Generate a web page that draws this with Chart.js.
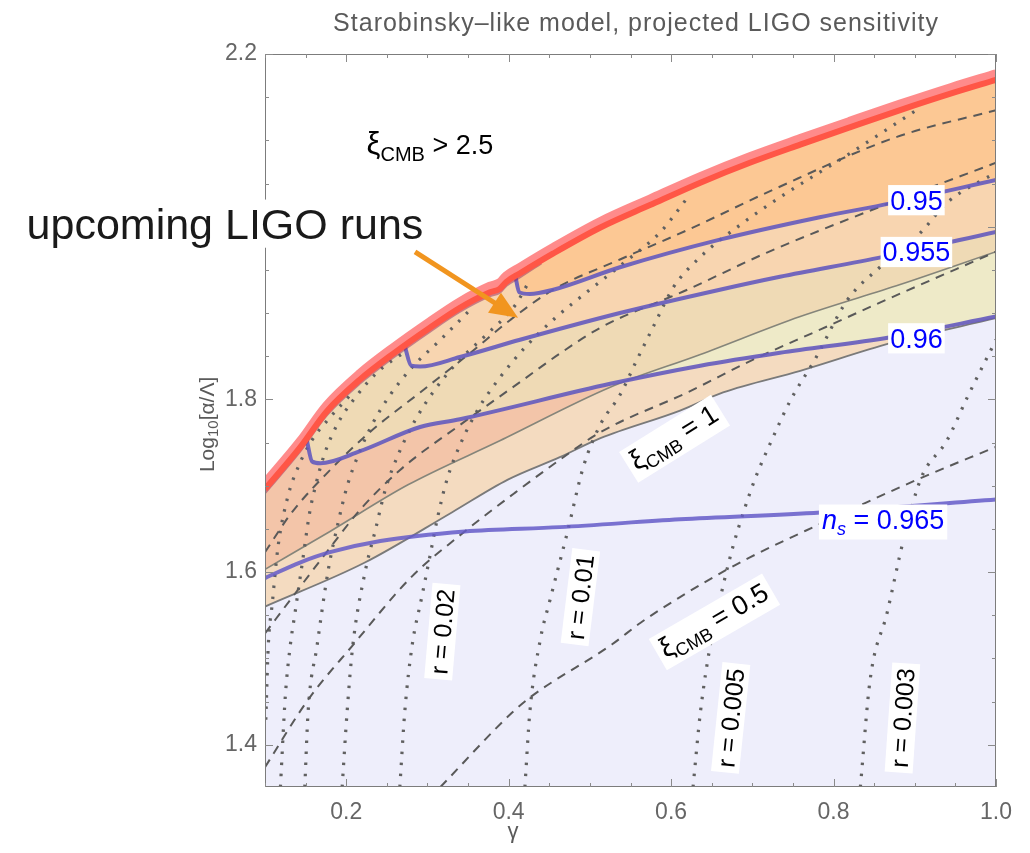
<!DOCTYPE html>
<html>
<head>
<meta charset="utf-8">
<script src="https://cdn.jsdelivr.net/npm/chart.js@4.4.1/dist/chart.umd.min.js"></script>
<style>
  body { margin: 0; background: #fff; }
  #wrap { width: 1030px; height: 853px; position: relative; }
</style>
</head>
<body>
<div id="wrap"><canvas id="myChart"></canvas></div>
<script>
// axis ticks
const xTicks = [0.2, 0.4, 0.6, 0.8, 1.0];
const yTicks = [1.4, 1.6, 1.8, 2.0, 2.2];

// LIGO reach (thick red boundary), gamma vs log10(alpha/Lambda)
const gammaLigo = [0.1, 0.143, 0.176, 0.217, 0.258, 0.303, 0.340, 0.377, 0.389, 0.397, 0.414, 0.455, 0.513, 0.574, 0.636, 0.697, 0.759, 0.820, 0.882, 0.944, 1.0];
const ligoLine = [1.696, 1.744, 1.786, 1.823, 1.853, 1.883, 1.906, 1.924, 1.928, 1.936, 1.946, 1.969, 1.999, 2.025, 2.051, 2.074, 2.095, 2.115, 2.135, 2.154, 2.170];
const ligoGlow = [1.703, 1.751, 1.793, 1.830, 1.860, 1.890, 1.913, 1.931, 1.935, 1.943, 1.953, 1.976, 2.006, 2.032, 2.058, 2.081, 2.102, 2.122, 2.142, 2.161, 2.177];
const gammaLigoEdge = [0.1, 0.143, 0.176, 0.217, 0.258, 0.303, 0.340, 0.377, 0.389, 0.397, 0.414, 0.440];
const ligoEdge = [1.692, 1.740, 1.782, 1.819, 1.849, 1.879, 1.902, 1.920, 1.924, 1.932, 1.942, 1.958];

// solid grey xi_CMB region edges
const gammaXiUpper = [0.1, 0.180, 0.276, 0.389, 0.525, 0.636, 0.759, 0.882, 1.0];
const xiUpper = [1.603, 1.647, 1.701, 1.752, 1.814, 1.852, 1.896, 1.933, 1.971];
const gammaXi1 = [0.1, 0.223, 0.330, 0.399, 0.463, 0.513, 0.611, 0.664, 0.759, 0.870, 1.0];
const xi1 = [1.560, 1.611, 1.669, 1.707, 1.733, 1.755, 1.787, 1.808, 1.833, 1.865, 1.894];

// n_s contours
const gammaNs950 = [0.408, 0.413, 0.426, 0.455, 0.537, 0.660, 0.783, 0.870, 1.0];
const ns950 = [1.944, 1.924, 1.922, 1.927, 1.953, 1.985, 2.011, 2.027, 2.054];
const gammaNs955 = [0.272, 0.280, 0.291, 0.340, 0.414, 0.537, 0.660, 0.734, 0.861, 1.0];
const ns955 = [1.862, 1.839, 1.838, 1.849, 1.869, 1.900, 1.927, 1.942, 1.965, 1.994];
const gammaNs960 = [0.151, 0.158, 0.168, 0.217, 0.291, 0.340, 0.525, 0.636, 0.734, 0.870, 1.0];
const ns960 = [1.755, 1.728, 1.726, 1.740, 1.768, 1.777, 1.818, 1.839, 1.854, 1.872, 1.896];
const gammaNs965 = [0.1, 0.143, 0.180, 0.242, 0.346, 0.463, 0.611, 0.784, 1.0];
const ns965 = [1.593, 1.611, 1.623, 1.636, 1.647, 1.652, 1.661, 1.669, 1.684];

// dashed xi_CMB contours
const gammaXiA = [0.1, 0.133, 0.180, 0.229, 0.291, 0.353, 0.402, 0.455, 0.537, 0.620, 0.726, 0.878, 1.0];
const xiA = [1.623, 1.669, 1.718, 1.762, 1.808, 1.854, 1.892, 1.927, 1.962, 1.996, 2.043, 2.104, 2.135];
const gammaXiB = [0.1, 0.141, 0.180, 0.217, 0.266, 0.344, 0.414, 0.463, 0.513, 0.620, 0.718, 0.857, 1.0];
const xiB = [1.529, 1.580, 1.628, 1.672, 1.718, 1.773, 1.820, 1.853, 1.883, 1.927, 1.970, 2.023, 2.074];
const gammaXiC = [0.1, 0.153, 0.207, 0.281, 0.338, 0.408, 0.463, 0.513, 0.620, 0.701, 0.784, 0.857, 1.0];
const xiC = [1.374, 1.452, 1.514, 1.595, 1.641, 1.692, 1.730, 1.762, 1.808, 1.846, 1.881, 1.912, 1.971];
const gammaXiHalf = [0.316, 0.404, 0.428, 0.527, 0.562, 0.611, 0.669, 0.697, 0.775, 0.903, 1.0];
const xiHalf = [1.351, 1.437, 1.456, 1.516, 1.541, 1.571, 1.603, 1.617, 1.652, 1.707, 1.745];

// dotted r contours
const gammaR003 = [0.833, 0.845, 0.866, 0.886, 0.907, 0.940, 0.965, 1.0];
const r003 = [1.351, 1.475, 1.553, 1.637, 1.707, 1.753, 1.803, 1.869];
const gammaR005 = [0.627, 0.636, 0.648, 0.663, 0.676, 0.689, 0.703, 0.724, 0.747, 0.777, 0.817, 0.857, 0.907, 0.940, 1.0];
const r005 = [1.351, 1.437, 1.514, 1.580, 1.629, 1.669, 1.707, 1.753, 1.799, 1.846, 1.915, 1.953, 1.993, 2.028, 2.063];
const gammaR01 = [0.420, 0.426, 0.439, 0.451, 0.472, 0.492, 0.513, 0.537, 0.558, 0.578, 0.603, 0.636, 0.685, 0.734, 0.817, 0.907];
const r01 = [1.351, 1.437, 1.522, 1.568, 1.645, 1.722, 1.771, 1.805, 1.846, 1.884, 1.930, 1.965, 2.002, 2.034, 2.083, 2.138];
const gammaR02 = [0.266, 0.272, 0.281, 0.293, 0.303, 0.312, 0.324, 0.340, 0.362, 0.389, 0.420, 0.457, 0.500, 0.543, 0.587, 0.623];
const r02 = [1.351, 1.437, 1.514, 1.571, 1.618, 1.661, 1.707, 1.747, 1.788, 1.825, 1.860, 1.894, 1.927, 1.959, 1.994, 2.037];
const gammaR04 = [0.195, 0.201, 0.208, 0.223, 0.236, 0.248, 0.264, 0.285, 0.309, 0.340, 0.375, 0.408, 0.426];
const r04 = [1.351, 1.437, 1.514, 1.599, 1.649, 1.695, 1.736, 1.776, 1.811, 1.846, 1.877, 1.909, 1.938];
const gammaR06 = [0.149, 0.153, 0.164, 0.178, 0.190, 0.201, 0.215, 0.232, 0.254, 0.281, 0.316, 0.353];
const r06 = [1.351, 1.437, 1.514, 1.603, 1.657, 1.699, 1.736, 1.771, 1.805, 1.837, 1.869, 1.904];
const gammaR08 = [0.119, 0.125, 0.131, 0.137, 0.146, 0.155, 0.162, 0.173, 0.189, 0.211, 0.239, 0.272];
const r08 = [1.351, 1.456, 1.514, 1.553, 1.611, 1.669, 1.699, 1.736, 1.771, 1.802, 1.832, 1.855];
const gammaR10 = [0.101, 0.104, 0.109, 0.116, 0.128, 0.141, 0.158, 0.180, 0.205];
const r10 = [1.429, 1.514, 1.564, 1.629, 1.687, 1.722, 1.753, 1.779, 1.805];

// in-plot labels: [gamma, log10, rotation]
const rLabels = ['r = 0.02', 'r = 0.01', 'r = 0.005', 'r = 0.003'];
const rLabelAt = [[0.318, 1.531, -85], [0.488, 1.571, -83], [0.673, 1.431, -84], [0.8845, 1.431, -86]];
const nsLabels = ['0.95', '0.955', '0.96'];
const nsLabelAt = [[0.902, 2.031], [0.902, 1.971], [0.902, 1.871]];

const FONT = "'Liberation Sans', Arial, sans-serif";

function pts(xs, ys) {
    return xs.map((x, i) => ({x: x, y: ys[i]}));
}

function fillArea(xs, ys, fill, color, order) {
    return {data: pts(xs, ys), borderWidth: 0, borderColor: 'rgba(0,0,0,0)', backgroundColor: color,
            fill: fill, order: order, cubicInterpolationMode: 'monotone'};
}

function curve(xs, ys, color, width, dash, order) {
    return {data: pts(xs, ys), borderColor: color, borderWidth: width, borderDash: dash || [],
            fill: false, order: order, cubicInterpolationMode: 'monotone', borderCapStyle: 'butt'};
}

const datasets = [
    fillArea(gammaXi1, xi1, 'start', '#eeeefb', 100),                 // 0 lavender
    fillArea(gammaLigo, ligoLine, 0, '#f4dbc0', 99),                  // 1 beige
    fillArea(gammaXiUpper, xiUpper, 1, '#f3c5a9', 98),                // 2 salmon
    fillArea(gammaNs960, ns960, 1, '#efdab5', 97),                    // 3 tan
    fillArea(gammaXiUpper, xiUpper, {target: 3, above: '#eeeac8', below: 'rgba(0,0,0,0)'}, '#eeeac8', 96), // 4 yellow
    fillArea(gammaNs955, ns955, 1, '#f8d5b0', 95),                    // 5 peach
    fillArea(gammaNs950, ns950, 1, '#fcc894', 94),                    // 6 orange

    curve(gammaXiUpper, xiUpper, '#85857a', 1.6, null, 40),
    curve(gammaXi1, xi1, '#7a7a7a', 1.8, null, 40),

    curve(gammaXiA, xiA, '#595959', 2, [9, 7], 30),
    curve(gammaXiB, xiB, '#595959', 2, [9, 7], 30),
    curve(gammaXiC, xiC, '#595959', 2, [9, 7], 30),
    curve(gammaXiHalf, xiHalf, '#595959', 2, [9, 7], 30),

    curve(gammaR003, r003, '#606060', 3.2, [2.5, 8.5], 30),
    curve(gammaR005, r005, '#606060', 3.2, [2.5, 8.5], 30),
    curve(gammaR01, r01, '#606060', 3.2, [2.5, 8.5], 30),
    curve(gammaR02, r02, '#606060', 3.2, [2.5, 8.5], 30),
    curve(gammaR04, r04, '#606060', 3.2, [2.5, 8.5], 30),
    curve(gammaR06, r06, '#606060', 3.2, [2.5, 8.5], 30),
    curve(gammaR08, r08, '#606060', 3.2, [2.5, 8.5], 30),
    curve(gammaR10, r10, '#606060', 3.2, [2.5, 8.5], 30),

    curve(gammaNs950, ns950, 'rgba(100,90,190,0.9)', 4, null, 20),
    curve(gammaNs955, ns955, 'rgba(100,90,190,0.9)', 4, null, 20),
    curve(gammaNs960, ns960, 'rgba(100,90,190,0.9)', 4, null, 20),
    curve(gammaNs965, ns965, 'rgba(100,90,200,0.85)', 4, null, 20),

    curve(gammaLigoEdge, ligoEdge, 'rgba(150,40,90,0.5)', 3, null, 12),
    curve(gammaLigo, ligoGlow, 'rgba(255,110,110,0.8)', 9, null, 11),
    curve(gammaLigo, ligoLine, '#ff5646', 6, null, 10)
];

function richText(ctx, parts, cx, cy, angle, box, pad) {
    ctx.save();
    ctx.translate(cx, cy);
    ctx.rotate(angle * Math.PI / 180);
    let w = 0, s = 0, sub = 0;
    parts.forEach(p => {
        ctx.font = (p.italic ? 'italic ' : '') + p.size + 'px ' + FONT;
        p.w = ctx.measureText(p.t).width;
        w += p.w;
        s = Math.max(s, p.size);
        sub = Math.max(sub, p.dy || 0);
    });
    if (box) {
        const px = pad === undefined ? 4 : pad;
        ctx.fillStyle = '#fff';
        ctx.fillRect(-w / 2 - px, -0.55 * s, w + 2 * px, 1.12 * s + sub * 0.8);
    }
    let x = -w / 2;
    ctx.textBaseline = 'alphabetic';
    parts.forEach(p => {
        ctx.font = (p.italic ? 'italic ' : '') + p.size + 'px ' + FONT;
        ctx.fillStyle = p.color || '#000';
        ctx.fillText(p.t, x, 0.36 * s + (p.dy || 0));
        x += p.w;
    });
    ctx.restore();
}

const notes = {
    id: 'notes',
    afterDraw(chart) {
        const {ctx, chartArea: a, scales: {x, y}} = chart;
        ctx.save();

        // frame with inward ticks
        ctx.strokeStyle = '#7c7c7c';
        ctx.lineWidth = 1;
        ctx.strokeRect(a.left + 0.5, a.top + 0.5, a.right - a.left - 1, a.bottom - a.top - 1);
        ctx.strokeStyle = '#8a8a8a';
        ctx.beginPath();
        for (let k = 2; k <= 20; k++) {
            const px = Math.round(x.getPixelForValue(k * 0.05)) + 0.5;
            const len = k % 4 === 0 ? 8 : 4;
            ctx.moveTo(px, a.bottom); ctx.lineTo(px, a.bottom - len);
            ctx.moveTo(px, a.top); ctx.lineTo(px, a.top + len);
        }
        for (let k = 28; k <= 44; k++) {
            const py = Math.round(y.getPixelForValue(k * 0.05)) + 0.5;
            const len = k % 4 === 0 ? 8 : 4;
            ctx.moveTo(a.left, py); ctx.lineTo(a.left + len, py);
            ctx.moveTo(a.right, py); ctx.lineTo(a.right - len, py);
        }
        ctx.stroke();

        // r labels
        rLabels.forEach((t, i) => {
            const [g, l, rot] = rLabelAt[i];
            richText(ctx, [{t: t, size: 25}], x.getPixelForValue(g), y.getPixelForValue(l), rot, true, 5);
        });
        // n_s labels
        nsLabels.forEach((t, i) => {
            const [g, l] = nsLabelAt[i];
            richText(ctx, [{t: t, size: 27, color: '#0000ff'}], x.getPixelForValue(g), y.getPixelForValue(l), 0, true, 2);
        });
        richText(ctx, [{t: 'n', size: 27, italic: true, color: '#0000ff'}, {t: 's', size: 18, italic: true, dy: 6, color: '#0000ff'},
                       {t: ' = 0.965', size: 27, color: '#0000ff'}],
                 x.getPixelForValue(0.861), y.getPixelForValue(1.661), 0, true, 3);
        // xi_CMB labels
        richText(ctx, [{t: 'ξ', size: 28}, {t: 'CMB', size: 18, dy: 6}, {t: ' = 1', size: 27}],
                 x.getPixelForValue(0.6025), y.getPixelForValue(1.757), -32, true, 5);
        richText(ctx, [{t: 'ξ', size: 28}, {t: 'CMB', size: 18, dy: 6}, {t: ' = 0.5', size: 27}],
                 x.getPixelForValue(0.6517), y.getPixelForValue(1.545), -30, true, 5);
        richText(ctx, [{t: 'ξ', size: 31}, {t: 'CMB', size: 20, dy: 7}, {t: ' > 2.5', size: 27}],
                 x.getPixelForValue(0.303), y.getPixelForValue(2.097), 0, false);

        // upcoming LIGO runs + arrow
        richText(ctx, [{t: 'upcoming LIGO runs', size: 43, color: '#1a1a1a'}],
                 x.getPixelForValue(0.0507), y.getPixelForValue(2.004), 0, true, 6);
        const x0 = x.getPixelForValue(0.2847), y0 = y.getPixelForValue(1.9708);
        const x1 = x.getPixelForValue(0.4116), y1 = y.getPixelForValue(1.8944);
        const ang = Math.atan2(y1 - y0, x1 - x0);
        ctx.strokeStyle = '#f1951f';
        ctx.fillStyle = '#f1951f';
        ctx.lineWidth = 5;
        ctx.beginPath();
        ctx.moveTo(x0, y0);
        ctx.lineTo(x1 - 22 * Math.cos(ang), y1 - 22 * Math.sin(ang));
        ctx.stroke();
        ctx.beginPath();
        ctx.moveTo(x1, y1);
        ctx.lineTo(x1 - 28 * Math.cos(ang) + 12 * Math.sin(ang), y1 - 28 * Math.sin(ang) - 12 * Math.cos(ang));
        ctx.lineTo(x1 - 28 * Math.cos(ang) - 12 * Math.sin(ang), y1 - 28 * Math.sin(ang) + 12 * Math.cos(ang));
        ctx.closePath();
        ctx.fill();

        // title and axis labels
        ctx.fillStyle = '#5a5a5a';
        ctx.textAlign = 'center';
        ctx.textBaseline = 'middle';
        ctx.font = '25px ' + FONT;
        ctx.letterSpacing = '1px';
        ctx.fillText('Starobinsky–like model, projected LIGO sensitivity', 636, 24);
        ctx.letterSpacing = '0px';
        ctx.font = '22px ' + FONT;
        ctx.fillText('γ', x.getPixelForValue(0.4054), 832);
        ctx.restore();

        richText(ctx, [{t: 'Log', size: 21, color: '#5a5a5a'}, {t: '10', size: 15, dy: 4, color: '#5a5a5a'},
                       {t: '[α/Λ]', size: 21, color: '#5a5a5a'}],
                 206, y.getPixelForValue(1.771), -90, false);
    }
};

new Chart(document.getElementById('myChart'), {
    type: 'line',
    data: {datasets: datasets},
    options: {
        animation: false,
        responsive: true,
        maintainAspectRatio: false,
        layout: {padding: {left: 0, right: 34, top: 54, bottom: 0}},
        elements: {point: {radius: 0}},
        plugins: {
            legend: {display: false},
            tooltip: {enabled: false},
            title: {display: false}
        },
        scales: {
            x: {
                type: 'linear', min: 0.1, max: 1.0,
                afterBuildTicks: s => { s.ticks = xTicks.map(v => ({value: v})); },
                afterFit: s => { s.height = 66; },
                grid: {display: false, drawTicks: false},
                border: {display: false},
                ticks: {font: {size: 23, family: FONT}, color: '#666', padding: 12, maxRotation: 0, autoSkip: false,
                        callback: v => v.toFixed(1)}
            },
            y: {
                type: 'linear', min: 1.351, max: 2.2,
                afterBuildTicks: s => { s.ticks = yTicks.map(v => ({value: v})); },
                afterFit: s => { s.width = 265; },
                grid: {display: false, drawTicks: false},
                border: {display: false},
                ticks: {font: {size: 23, family: FONT}, color: '#666', padding: 8, autoSkip: false,
                        callback: v => v.toFixed(1)}
            }
        }
    },
    plugins: [notes]
});
</script>
</body>
</html>
